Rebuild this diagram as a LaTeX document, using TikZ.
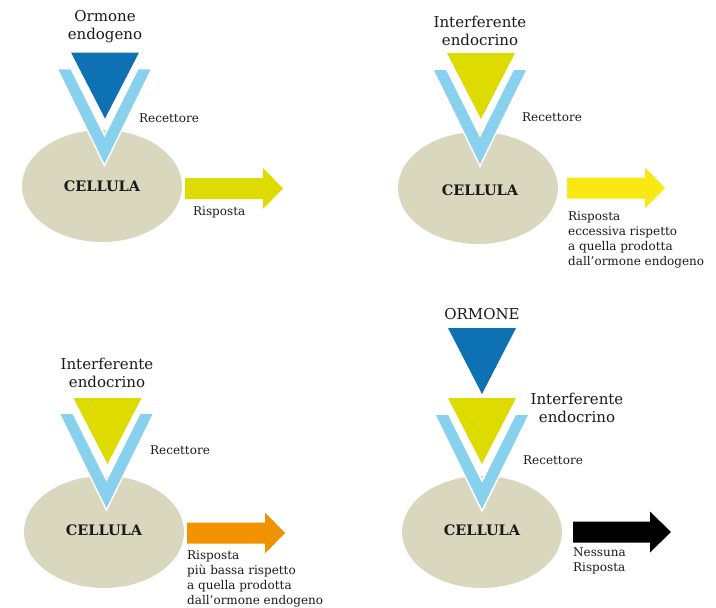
\documentclass[tikz,border=0pt]{standalone}
\usepackage{fontspec}
\setmainfont{DejaVu Serif}
\definecolor{hormblue}{HTML}{0E71B4}
\definecolor{recblue}{HTML}{87D1EE}
\definecolor{cellbeige}{HTML}{D9D7BE}
\definecolor{interyel}{HTML}{DDDB00}
\definecolor{brightyel}{HTML}{FAE815}
\definecolor{respor}{HTML}{F39200}
\definecolor{txt}{HTML}{1A1A1A}
\tikzset{
  cellshape/.style={ellipse, fill=cellbeige, minimum width=160pt, minimum height=112pt, inner sep=0pt},
  celltext/.style={font=\fontsize{14.5}{16}\selectfont\bfseries, text=txt},
  bigtext/.style={font=\fontsize{15}{18}\selectfont, text=txt, align=center, inner sep=0pt},
  smalltext/.style={font=\fontsize{12}{15}\selectfont, text=txt, align=left, inner sep=0pt},
}
\usetikzlibrary{shapes.geometric}
% receptor V: #1 = center x, #2 = top y
\newcommand\recV[2]{%
  \fill[recblue, draw=white, line width=1.5pt, line join=miter]
    (#1-47.5,#2) -- (#1-33.5,#2) -- (#1,#2+67) -- (#1+33.5,#2) -- (#1+47.5,#2) -- (#1,#2+97) -- cycle;}
% ligand triangle: #1 = center x, #2 = top y, #3 = colour
\newcommand\ligand[3]{%
  \fill[#3] (#1-34,#2) -- (#1+34,#2) -- (#1,#2+66) -- cycle;}
% arrow: #1 start x, #2 centre y, #3 head start x, #4 tip x, #5 colour
\newcommand\resparrow[5]{%
  \fill[#5] (#1,#2-10.5) -- (#3,#2-10.5) -- (#3,#2-20.5) -- (#4,#2) -- (#3,#2+20.5) -- (#3,#2+10.5) -- (#1,#2+10.5) -- cycle;}
\begin{document}
\begin{tikzpicture}[x=1pt,y=-1pt]
\useasboundingbox (0,0) rectangle (716,608);
% ---------- panel 1 ----------
\node[cellshape] (c1) at (102,186) {};
\recV{104.5}{68.5}
\ligand{105}{52.5}{hormblue}
\node[celltext] (c1t) at (c1.center) {CELLULA};
\node[bigtext] (l1) at (105,27) {Ormone\\endogeno};
\node[smalltext, anchor=west] (r1) at (139,118) {Recettore};
\resparrow{185}{188.5}{263}{283}{interyel}
\node[smalltext, anchor=west] (a1) at (193,212) {Risposta};
% ---------- panel 2 ----------
\node[cellshape] (c2) at (478,188) {};
\recV{480}{69}
\ligand{481}{53}{interyel}
\node[celltext] (c2t) at (480,190) {CELLULA};
\node[bigtext] (l2) at (480,31) {Interferente\\endocrino};
\node[smalltext, anchor=west] (r2) at (522,117) {Recettore};
\resparrow{567}{188}{645}{665}{brightyel}
\node[smalltext, anchor=north west] (a2) at (568,211) {Risposta\\eccessiva rispetto\\a quella prodotta\\dall’ormone endogeno};
% ---------- panel 3 ----------
\node[cellshape] (c3) at (104,532) {};
\recV{106.5}{413}
\ligand{107.5}{398}{interyel}
\node[celltext] (c3t) at (104,530) {CELLULA};
\node[bigtext] (l3) at (107,373) {Interferente\\endocrino};
\node[smalltext, anchor=west] (r3) at (150,450) {Recettore};
\resparrow{187}{533}{265}{285}{respor}
\node[smalltext, anchor=north west] (a3) at (187,550) {Risposta\\più bassa rispetto\\a quella prodotta\\dall’ormone endogeno};
% ---------- panel 4 ----------
\node[cellshape] (c4) at (482,532) {};
\recV{482}{414}
\ligand{482}{328}{hormblue}
\ligand{482}{398}{interyel}
\node[celltext] (c4t) at (482,530) {CELLULA};
\node[bigtext] (o4) at (482,314) {ORMONE};
\node[bigtext] (l4) at (577,408) {Interferente\\endocrino};
\node[smalltext, anchor=west] (r4) at (523,460) {Recettore};
\resparrow{573}{532}{650}{671}{black}
\node[smalltext, anchor=north west] (a4) at (573,548) {Nessuna\\Risposta};
\end{tikzpicture}
\end{document}
